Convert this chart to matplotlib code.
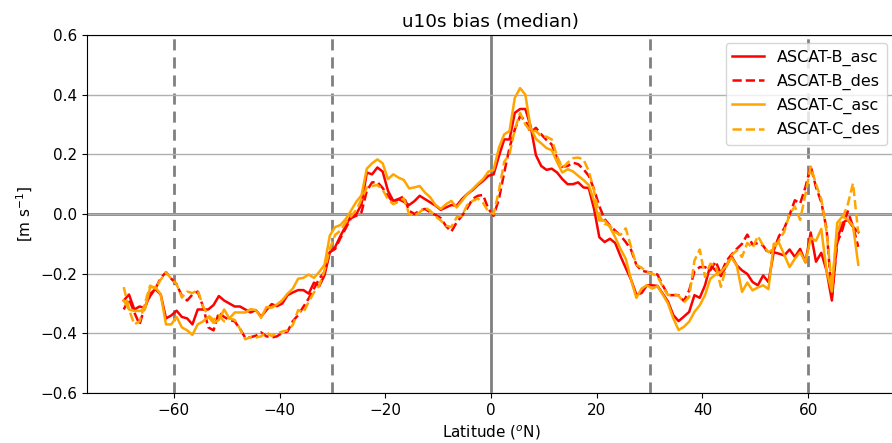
import numpy as np
import matplotlib
matplotlib.use("Agg")
import matplotlib.pyplot as plt

latitude = np.arange(-69.5, 70.0, 1.0)

ascat_b_asc = [
    -0.29, -0.27, -0.32, -0.31, -0.315, -0.268, -0.252, -0.27, -0.35, -0.34,
    -0.324, -0.345, -0.35, -0.37, -0.32, -0.32, -0.32, -0.305, -0.275, -0.29,
    -0.30, -0.31, -0.31, -0.32, -0.33, -0.322, -0.344, -0.322, -0.302, -0.309,
    -0.30, -0.272, -0.263, -0.255, -0.255, -0.267, -0.23, -0.242, -0.205, -0.128,
    -0.111, -0.074, -0.041, -0.006, -0.001, 0.033, 0.139, 0.133, 0.156, 0.142,
    0.078, 0.044, 0.05, 0.041, 0.03, 0.043, 0.061, 0.05, 0.039, 0.028,
    0.014, 0.022, 0.03, 0.028, 0.05, 0.067, 0.08, 0.097, 0.111, 0.128,
    0.133, 0.194, 0.25, 0.25, 0.339, 0.352, 0.352, 0.294, 0.197, 0.161,
    0.148, 0.152, 0.139, 0.117, 0.10, 0.10, 0.106, 0.089, 0.087, 0.017,
    -0.078, -0.094, -0.083, -0.097, -0.141, -0.181, -0.22, -0.27, -0.265, -0.239,
    -0.239, -0.241, -0.267, -0.294, -0.339, -0.359, -0.344, -0.328, -0.272, -0.281,
    -0.239, -0.172, -0.189, -0.208, -0.174, -0.141, -0.172, -0.189, -0.201, -0.228,
    -0.239, -0.206, -0.228, -0.128, -0.133, -0.139, -0.119, -0.144, -0.117, -0.162,
    -0.062, -0.16, -0.13, -0.19, -0.29, -0.086, -0.03, -0.019, -0.043, -0.061,
]

ascat_b_des = [
    -0.32, -0.285, -0.33, -0.37, -0.31, -0.275, -0.25, -0.215, -0.195, -0.217,
    -0.235, -0.275, -0.29, -0.27, -0.26, -0.31, -0.38, -0.39, -0.33, -0.345,
    -0.355, -0.36, -0.385, -0.415, -0.413, -0.408, -0.397, -0.41, -0.414, -0.41,
    -0.398, -0.394, -0.359, -0.339, -0.311, -0.283, -0.25, -0.217, -0.194, -0.128,
    -0.117, -0.081, -0.048, -0.014, -0.006, 0.006, 0.078, 0.106, 0.107, 0.087,
    0.061, 0.039, 0.05, 0.059, 0.011, 0.0, 0.011, 0.017, 0.006, -0.003,
    -0.014, -0.041, -0.059, -0.028, -0.006, 0.019, 0.05, 0.061, 0.064, 0.017,
    -0.006, 0.05, 0.139, 0.222, 0.283, 0.328, 0.314, 0.272, 0.289, 0.267,
    0.248, 0.233, 0.186, 0.158, 0.161, 0.172, 0.167, 0.15, 0.128, 0.083,
    0.026, -0.017, -0.039, -0.056, -0.072, -0.094, -0.12, -0.17, -0.19, -0.194,
    -0.197, -0.203, -0.239, -0.272, -0.272, -0.272, -0.292, -0.256, -0.192, -0.178,
    -0.178, -0.189, -0.159, -0.20, -0.159, -0.136, -0.117, -0.10, -0.069, -0.103,
    -0.097, -0.106, -0.133, -0.122, -0.074, -0.048, -0.003, 0.046, 0.035, 0.09,
    0.16, 0.09, 0.04, -0.05, -0.28, -0.097, -0.052, 0.009, -0.041, -0.11,
]

ascat_c_asc = [
    -0.29, -0.32, -0.325, -0.325, -0.32, -0.245, -0.245, -0.27, -0.37, -0.37,
    -0.345, -0.38, -0.39, -0.405, -0.37, -0.36, -0.345, -0.365, -0.355, -0.32,
    -0.35, -0.33, -0.33, -0.33, -0.319, -0.322, -0.348, -0.312, -0.314, -0.303,
    -0.289, -0.267, -0.25, -0.217, -0.214, -0.203, -0.214, -0.194, -0.17, -0.072,
    -0.044, -0.037, -0.017, 0.011, 0.041, 0.063, 0.152, 0.17, 0.183, 0.17,
    0.117, 0.133, 0.122, 0.114, 0.086, 0.089, 0.094, 0.072, 0.056, 0.03,
    0.017, 0.033, 0.044, 0.022, 0.044, 0.067, 0.083, 0.101, 0.117, 0.142,
    0.148, 0.222, 0.267, 0.278, 0.389, 0.422, 0.40, 0.289, 0.252, 0.237,
    0.221, 0.214, 0.174, 0.139, 0.15, 0.143, 0.128, 0.114, 0.097, 0.044,
    -0.022, -0.022, -0.044, -0.078, -0.117, -0.15, -0.22, -0.281, -0.25, -0.239,
    -0.25, -0.242, -0.27, -0.30, -0.35, -0.389, -0.378, -0.361, -0.328, -0.306,
    -0.272, -0.217, -0.203, -0.194, -0.174, -0.146, -0.172, -0.261, -0.23, -0.256,
    -0.246, -0.239, -0.252, -0.10, -0.097, -0.137, -0.178, -0.15, -0.128, -0.162,
    -0.08, -0.09, -0.05, -0.19, -0.26, -0.03, -0.008, -0.019, -0.039, -0.17,
]

ascat_c_des = [
    -0.245, -0.32, -0.37, -0.36, -0.30, -0.24, -0.25, -0.22, -0.195, -0.217,
    -0.235, -0.28, -0.26, -0.265, -0.255, -0.31, -0.34, -0.355, -0.34, -0.36,
    -0.35, -0.355, -0.385, -0.42, -0.413, -0.414, -0.41, -0.397, -0.409, -0.40,
    -0.394, -0.39, -0.372, -0.322, -0.33, -0.294, -0.263, -0.239, -0.189, -0.117,
    -0.07, -0.056, -0.028, -0.008, 0.014, 0.05, 0.089, 0.094, 0.097, 0.081,
    0.05, 0.033, 0.041, 0.052, 0.0, -0.006, 0.006, 0.022, 0.011, -0.008,
    -0.022, -0.039, -0.044, -0.011, -0.006, 0.03, 0.044, 0.052, 0.037, 0.008,
    0.0, 0.078, 0.175, 0.2, 0.283, 0.339, 0.30, 0.278, 0.278, 0.261,
    0.259, 0.25, 0.194, 0.153, 0.172, 0.187, 0.189, 0.183, 0.144, 0.078,
    -0.006, -0.033, -0.039, -0.061, -0.07, -0.048, -0.11, -0.17, -0.18, -0.194,
    -0.20, -0.208, -0.244, -0.272, -0.268, -0.274, -0.297, -0.278, -0.156, -0.119,
    -0.211, -0.167, -0.172, -0.244, -0.178, -0.139, -0.122, -0.144, -0.097, -0.114,
    -0.074, -0.106, -0.128, -0.117, -0.089, -0.059, 0.0, 0.025, -0.02, 0.066,
    0.159, 0.10, 0.05, -0.06, -0.24, -0.063, -0.013, 0.031, 0.103, -0.063,
]

series_names = ["ASCAT-B_asc", "ASCAT-B_des", "ASCAT-C_asc", "ASCAT-C_des"]
x_ticks = [-60, -40, -20, 0, 20, 40, 60]
y_ticks = [-0.6, -0.4, -0.2, 0.0, 0.2, 0.4, 0.6]
y_tick_labels = ["\u22120.6", "\u22120.4", "\u22120.2", "0.0", "0.2", "0.4", "0.6"]
ref_lats = [-60, -30, 30, 60]

fig = plt.figure(figsize=(8.92, 4.43), dpi=100)
ax = fig.add_axes([87 / 892, 1 - 393 / 443, 808 / 892, 358 / 443])

ax.yaxis.grid(True, color="#b0b0b0", lw=1.0, zorder=0)
ax.axhline(0, color="grey", lw=2.0, zorder=1)
ax.axvline(0, color="grey", lw=2.0, zorder=1)
for lat in ref_lats:
    ax.axvline(lat, color="grey", lw=2.0, ls=(0, (4, 2.5)), zorder=1)

lw = 1.8
ax.plot(latitude, ascat_b_asc, color="red", lw=lw, ls="-", label=series_names[0], zorder=3)
ax.plot(latitude, ascat_b_des, color="red", lw=lw, ls="--", label=series_names[1], zorder=3)
ax.plot(latitude, ascat_c_asc, color="orange", lw=lw, ls="-", label=series_names[2], zorder=3)
ax.plot(latitude, ascat_c_des, color="orange", lw=lw, ls="--", label=series_names[3], zorder=3)

ax.set_xlim(-76.45, 76.45)
ax.set_ylim(-0.6, 0.6)
ax.set_xticks(x_ticks)
ax.set_yticks(y_ticks)
ax.set_yticklabels(y_tick_labels)
ax.tick_params(labelsize=11)
ax.set_xlabel("Latitude ($^o$N)", fontsize=11)
ax.set_ylabel("[m s$^{-1}$]", fontsize=11)
ax.set_title("u10s bias (median)", fontsize=13.2)
ax.spines["right"].set_visible(False)

ax.legend(loc="upper right", fontsize=11.5, bbox_to_anchor=(0.990, 0.977),
          borderaxespad=0.0)

fig.savefig("out.png", dpi=100)
